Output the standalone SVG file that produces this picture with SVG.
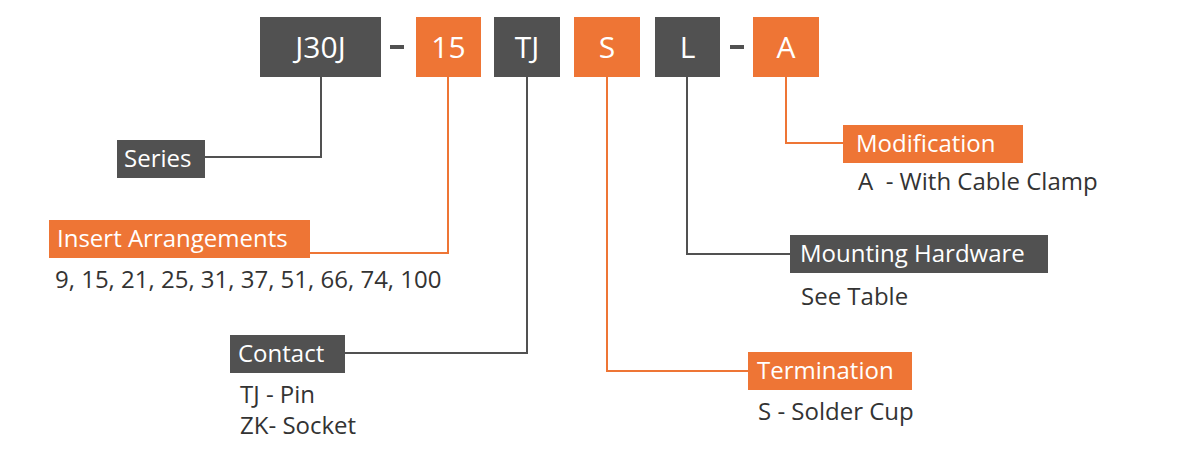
<svg xmlns="http://www.w3.org/2000/svg" width="1200" height="449" viewBox="0 0 1200 449">
<style>
.d{fill:#515151}.o{fill:#EE7535}
.t{font-family:"Open Sans",sans-serif;font-size:24px;fill:#fff}
.b{font-family:"Open Sans",sans-serif;font-size:30px;fill:#fff;text-anchor:middle}
.k{font-family:"Open Sans",sans-serif;font-size:24px;fill:#333}
.ld{stroke:#515151;stroke-width:2;fill:none}.lo{stroke:#EE7535;stroke-width:2;fill:none}
</style>
<rect width="1200" height="449" fill="#fff"/>
<g id="connectors">
<polyline class="ld" points="321,77 321,157 205,157"/>
<polyline class="lo" points="448,77 448,253 310,253"/>
<polyline class="ld" points="527,77 527,353 345,353"/>
<polyline class="lo" points="607,77 607,371 748,371"/>
<polyline class="ld" points="687,77 687,254 790,254"/>
<polyline class="lo" points="786,77 786,143 843,143"/>
</g>
<g id="code">
<rect class="d" x="260" y="17" width="121" height="60"/><text class="b" x="320.5" y="58">J30J</text>
<rect class="d" x="390" y="45" width="14" height="4"/>
<rect class="o" x="416" y="17" width="65" height="60"/><text class="b" x="448.5" y="58">15</text>
<rect class="d" x="494" y="17" width="66" height="60"/><text class="b" x="527" y="58">TJ</text>
<rect class="o" x="574" y="17" width="66" height="60"/><text class="b" x="607" y="58">S</text>
<rect class="d" x="655" y="17" width="65" height="60"/><text class="b" x="687.5" y="58">L</text>
<rect class="d" x="730" y="45" width="14" height="4"/>
<rect class="o" x="753" y="17" width="66" height="60"/><text class="b" x="786" y="58">A</text>
</g>
<g id="series"><rect class="d" x="117" y="140" width="88" height="38"/><text class="t" x="124" y="167">Series</text></g>
<g id="insert"><rect class="o" x="49" y="220" width="261" height="38"/><text class="t" x="57" y="247">Insert Arrangements</text>
<text class="k" x="55" y="288">9, 15, 21, 25, 31, 37, 51, 66, 74, 100</text></g>
<g id="contact"><rect class="d" x="230" y="335" width="115" height="38"/><text class="t" x="238" y="362">Contact</text>
<text class="k" x="240" y="403">TJ - Pin</text><text class="k" x="240" y="434">ZK- Socket</text></g>
<g id="termination"><rect class="o" x="748" y="352" width="164" height="38"/><text class="t" x="757" y="379">Termination</text>
<text class="k" x="758" y="420">S - Solder Cup</text></g>
<g id="mounting"><rect class="d" x="790" y="235" width="258" height="38"/><text class="t" x="800" y="262">Mounting Hardware</text>
<text class="k" x="801" y="305">See Table</text></g>
<g id="modification"><rect class="o" x="843" y="125" width="180" height="38"/><text class="t" x="856" y="152">Modification</text>
<text class="k" x="858" y="190" xml:space="preserve">A  - With Cable Clamp</text></g>
</svg>
